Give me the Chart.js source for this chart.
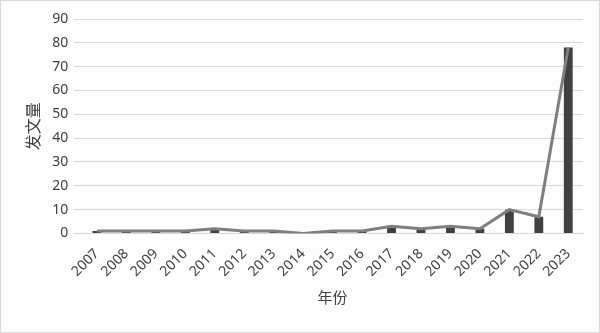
<!doctype html>
<html lang="zh">
<head>
<meta charset="utf-8">
<title>发文量</title>
<script src="https://cdn.jsdelivr.net/npm/chart.js@4.4.1/dist/chart.umd.min.js"></script>
<style>
 html,body{margin:0;padding:0;background:#fff}
 .box{position:relative;width:598px;height:331px;border:1px solid #d9d9d9;background:#fdfdfd}
 canvas{display:block}
</style>
</head>
<body>
<div class="box"><canvas id="c" width="598" height="331"></canvas></div>
<script>
/* ===== Daten ===== */
const years  = ['2007','2008','2009','2010','2011','2012','2013','2014','2015','2016','2017','2018','2019','2020','2021','2022','2023'];
const counts = [1,1,1,1,2,1,1,0,1,1,3,2,3,2,10,7,78];
const yTicks = [0,10,20,30,40,50,60,70,80,90];

const FONT = "'Noto Sans', 'Noto Sans CJK SC', sans-serif";

new Chart(document.getElementById('c'),{
  data:{
    labels:years,
    datasets:[
      {type:'line',data:counts,borderColor:'#7f7f7f',borderWidth:3,pointRadius:0,tension:0,order:0},
      {type:'bar',data:counts,backgroundColor:'#404040',barPercentage:0.3,categoryPercentage:1,order:1}
    ]
  },
  options:{
    responsive:false,animation:false,
    layout:{padding:{top:18,right:16,left:20,bottom:20}},
    plugins:{legend:{display:false},tooltip:{enabled:false}},
    scales:{
      x:{
        grid:{display:false},
        border:{color:'#d9d9d9'},
        ticks:{color:'#404040',font:{family:FONT,size:14},minRotation:45,maxRotation:45,padding:4},
        title:{display:true,text:'年份',color:'#404040',font:{family:FONT,size:15},padding:{top:6}}
      },
      y:{
        min:0,max:90,
        afterBuildTicks:ax=>{ax.ticks=yTicks.map(v=>({value:v}));},
        grid:{color:'#d9d9d9'},
        border:{display:false},
        ticks:{color:'#404040',font:{family:FONT,size:14},padding:6},
        title:{display:true,text:'发文量',color:'#404040',font:{family:FONT,size:16},padding:{bottom:2}}
      }
    }
  }
});
</script>
</body>
</html>
